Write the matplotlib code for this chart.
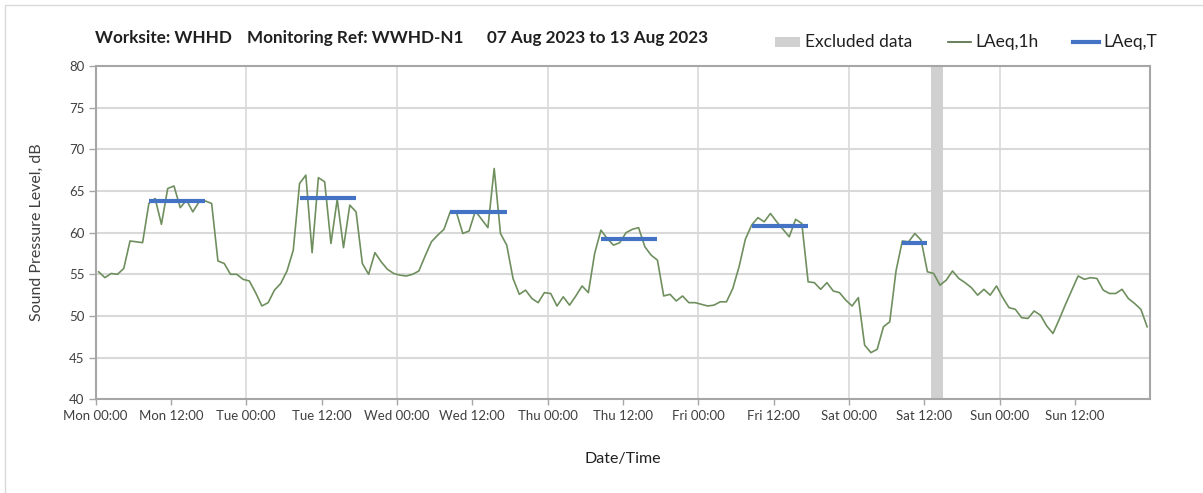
import numpy as np
import matplotlib
matplotlib.use("Agg")
import matplotlib.pyplot as plt
from matplotlib.lines import Line2D
from matplotlib.patches import Rectangle

plt.rcParams['font.family'] = ['Lato', 'DejaVu Sans']

# ---- data ----
days = ["Mon", "Tue", "Wed", "Thu", "Fri", "Sat", "Sun"]
tick_times = ["00:00", "12:00"]

# hourly LAeq,1h values, Mon 00:00 .. Sun 23:00 (168 hours)
laeq_1h = [
    55.3, 54.6, 55.1, 55.0, 55.7, 59.0, 58.9, 58.8, 63.5, 64.1, 61.0, 65.3,
    65.6, 63.0, 63.9, 62.5, 63.7, 63.8, 63.5, 56.6, 56.3, 55.0, 55.0, 54.4,
    54.2, 52.8, 51.2, 51.6, 53.1, 53.9, 55.4, 57.9, 65.9, 66.9, 57.6, 66.6,
    66.1, 58.7, 64.0, 58.2, 63.3, 62.5, 56.3, 55.0, 57.6, 56.5, 55.6, 55.1,
    54.9, 54.8, 55.0, 55.4, 57.2, 58.9, 59.7, 60.4, 62.5, 62.4, 59.9, 60.2,
    62.6, 61.6, 60.6, 67.7, 59.9, 58.5, 54.5, 52.6, 53.1, 52.1, 51.6, 52.8,
    52.7, 51.2, 52.3, 51.3, 52.4, 53.6, 52.8, 57.5, 60.3, 59.3, 58.5, 58.8,
    60.0, 60.4, 60.6, 58.3, 57.3, 56.7, 52.4, 52.6, 51.8, 52.4, 51.6, 51.6,
    51.4, 51.2, 51.3, 51.7, 51.7, 53.3, 55.9, 59.2, 60.9, 61.8, 61.3, 62.3,
    61.3, 60.4, 59.5, 61.6, 61.1, 54.1, 54.0, 53.2, 54.0, 53.0, 52.8, 51.9,
    51.2, 52.2, 46.5, 45.6, 46.0, 48.7, 49.3, 55.4, 59.0, 58.9, 59.9, 59.1,
    55.3, 55.1, 53.7, 54.3, 55.4, 54.5, 54.0, 53.4, 52.5, 53.2, 52.5, 53.6,
    52.2, 51.0, 50.8, 49.8, 49.7, 50.6, 50.1, 48.8, 47.9, 49.6, 51.4, 53.1,
    54.8, 54.4, 54.6, 54.5, 53.1, 52.7, 52.7, 53.2, 52.1, 51.5, 50.8, 48.7,
]

# LAeq,T periods: start hour, end hour (hours since Mon 00:00), value
period_start = [8, 32, 56, 80, 104, 128]
period_end = [18, 42, 66, 90, 114, 133]
laeq_T = [63.8, 64.1, 62.5, 59.2, 60.8, 58.8]

# excluded data window (hours since Mon 00:00)
excluded_start = 133
excluded_end = 135

title_parts = ["Worksite: WHHD", "Monitoring Ref: WWHD-N1", "07 Aug 2023 to 13 Aug 2023"]
legend_labels = ["Excluded data", "LAeq,1h", "LAeq,T"]

# ---- figure ----
W, H = 1203, 493
fig = plt.figure(figsize=(W / 100, H / 100), dpi=100)


def fx(px):
    return px / W


def fy(py):
    return 1 - py / H


# faint outer frame
fig.add_artist(Rectangle((fx(5), -0.1), 1.2, (H - 5) / H + 0.1,
                         transform=fig.transFigure, fill=False,
                         edgecolor="#d9d9d9", linewidth=1.0))

ax = fig.add_axes([fx(95.5), fy(399.3), (1150.3 - 95.5) / W, (399.3 - 66) / H])

hours = np.arange(len(laeq_1h)) + 0.5

grid_c = "#d9d9d9"
spine_c = "#a6a6a6"
green = "#6f8f5e"
blue = "#4472c4"
band = "#d0d0d0"

ax.axvspan(excluded_start, excluded_end, color=band, lw=0, zorder=1)
ax.plot(hours, laeq_1h, color=green, lw=1.2, zorder=3)
for s, e, v in zip(period_start, period_end, laeq_T):
    ax.plot([s + 0.5, e - 0.5], [v, v], color=blue, lw=3, zorder=4,
            solid_capstyle="butt")

ax.set_xlim(0, 168)
ax.set_ylim(40, 80)
ax.set_yticks(np.arange(40, 81, 5))
xt = np.arange(0, 168, 12)
ax.set_xticks(xt)
ax.set_xticklabels([f"{days[int(t // 24)]} {tick_times[int(t % 24 // 12)]}" for t in xt])

for y in np.arange(45, 80, 5):
    ax.axhline(y, color=grid_c, lw=1.5, zorder=0)
for x in np.arange(24, 168, 24):
    ax.axvline(x, color=grid_c, lw=1.2, zorder=0)

for sp in ax.spines.values():
    sp.set_color(spine_c)
    sp.set_linewidth(1.5)

ax.tick_params(axis="x", length=4, width=1, color=spine_c, pad=4,
               labelsize=9.5, labelcolor="#404040")
ax.tick_params(axis="y", length=5, width=1, color=spine_c, pad=3,
               labelsize=9.5, labelcolor="#404040")

ax.set_ylabel("Sound Pressure Level, dB", fontsize=11.5, color="#404040", labelpad=18)
ax.set_xlabel("Date/Time", fontsize=11.5, color="#202020", labelpad=21)

# title in three parts
for xpos, txt in zip([95, 247, 487], title_parts):
    fig.text(fx(xpos), fy(38), txt, fontsize=12.3, fontweight="bold",
             color="#202020", va="center", ha="left")

# legend drawn manually
ly = fy(42)
fig.add_artist(Rectangle((fx(775), fy(47)), fx(25), 10 / H,
                         transform=fig.transFigure, facecolor=band, edgecolor="none"))
fig.text(fx(805), ly, legend_labels[0], fontsize=12.5, color="#202020", va="center", ha="left")
fig.add_artist(Line2D([fx(948), fx(971)], [ly, ly], transform=fig.transFigure,
                      color="#4f6b3f", lw=1.2))
fig.text(fx(975), ly, legend_labels[1], fontsize=12.5, color="#202020", va="center", ha="left")
fig.add_artist(Line2D([fx(1073), fx(1099)], [ly, ly], transform=fig.transFigure,
                      color=blue, lw=3))
fig.text(fx(1103), ly, legend_labels[2], fontsize=12.5, color="#202020", va="center", ha="left")

fig.savefig("out.png", dpi=100)
